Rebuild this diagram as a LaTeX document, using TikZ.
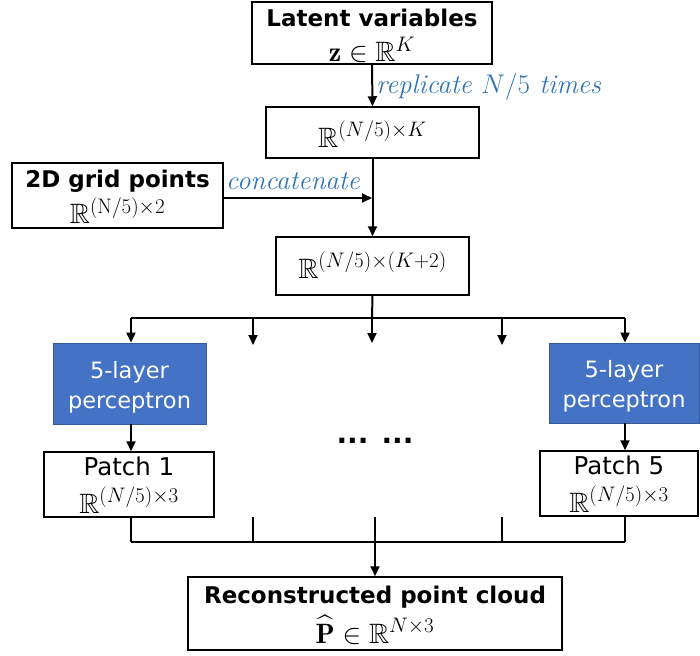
\documentclass[tikz,border=0pt]{standalone}
\usepackage{fix-cm}
\usepackage{amsmath,amssymb,amsfonts}
\usepackage{fontspec}
\setsansfont{DejaVu Sans}
\usetikzlibrary{arrows.meta}
\DeclareMathSizes{28}{28}{21}{16}
\definecolor{boxblue}{RGB}{68,114,196}
\definecolor{lblblue}{RGB}{46,117,182}
\newcommand{\ttlfont}{\sffamily\bfseries\fontsize{23}{26}\selectfont}
\newcommand{\ptfont}{\sffamily\fontsize{24.5}{26}\selectfont}
\newcommand{\mthfont}{\fontsize{28}{30}\selectfont}
\newcommand{\twolines}[2]{\begin{tabular}[t]{@{}c@{}}#1\\#2\end{tabular}}
\begin{document}
\begin{tikzpicture}[x=1pt,y=-1pt,
  box/.style={draw=black,line width=1.5pt,fill=white,inner sep=0pt,minimum width=#1},
  bluebox/.style={draw=boxblue!80!black,line width=0.8pt,fill=boxblue,text=white,inner sep=0pt,minimum width=#1},
  conn/.style={line width=2pt},
  arr/.style={line width=2pt,-{Triangle[length=10pt,width=9pt]}},
  lbl/.style={text=lblblue,font=\fontsize{27}{30}\selectfont\itshape,inner sep=0pt}]
\useasboundingbox (0,0) rectangle (700,655);

\node[box=240pt,minimum height=62pt,font=\fontsize{28}{33}\selectfont,
      text height=10pt,text depth=22pt] (lat) at (372,33)
  {\twolines{\ttlfont Latent variables}{\mthfont $\mathbf{z}\in\mathbb{R}^{K}$}};
\node[box=213pt,minimum height=51pt,text height=29pt,text depth=0pt] (rep) at (372.5,132.5)
  {\mthfont $\mathbb{R}^{(N/5)\times K}$};
\node[box=211pt,minimum height=65pt,font=\fontsize{28}{36}\selectfont,
      text height=10pt,text depth=27pt] (grid) at (117.5,195.5)
  {\twolines{\ttlfont 2D grid points}{\mthfont $\mathbb{R}^{(\mathrm{N}/5)\times 2}$}};
\node[box=193pt,minimum height=58pt,text height=26pt,text depth=2pt] (cat) at (372.5,266)
  {\mthfont $\mathbb{R}^{(N/5)\times(K+2)}$};

\node[bluebox=153pt,minimum height=81pt,font=\sffamily\fontsize{22.5}{30}\selectfont,
      text height=10pt,text depth=21pt] (mlp1) at (129.5,383.5)
  {\twolines{5-layer}{perceptron}};
\node[bluebox=150pt,minimum height=80pt,font=\sffamily\fontsize{22.5}{30}\selectfont,
      text height=10pt,text depth=21pt] (mlp5) at (624,383)
  {\twolines{5-layer}{perceptron}};

\node[box=170pt,minimum height=65pt,font=\fontsize{28}{38}\selectfont,
      text height=10pt,text depth=29pt] (p1) at (129,484.5)
  {\twolines{\ptfont Patch 1}{\mthfont $\mathbb{R}^{(N/5)\times 3}$}};
\node[box=158pt,minimum height=65pt,font=\fontsize{28}{38}\selectfont,
      text height=10pt,text depth=29pt] (p5) at (619,483.5)
  {\twolines{\ptfont Patch 5}{\mthfont $\mathbb{R}^{(N/5)\times 3}$}};

\node[font=\sffamily\bfseries\fontsize{28}{30}\selectfont,inner sep=0pt,anchor=base] (dots) at (375,443) {... ...};

\node[box=374pt,minimum height=73pt,font=\fontsize{28}{40}\selectfont,
      text height=10pt,text depth=31pt] (rec) at (375,613.5)
  {\twolines{\ttlfont Reconstructed point cloud}{\mthfont $\widehat{\mathbf{P}}\in\mathbb{R}^{N\times 3}$}};

% labels
\node[lbl,anchor=base west] (replbl) at (376,94) {replicate $N/5$ times};
\node[lbl,anchor=base west] (catlbl) at (226,189) {concatenate};

% top connectors
\draw[arr] (lat.south) -- (rep.north);
\draw[arr] (rep.south) -- (cat.north);
\coordinate (join) at (372,198);
\draw[arr] (grid.east |- join) -- (join);

% branching
\coordinate (s) at (372,318);
\coordinate (hL) at (131,318);
\coordinate (hR) at (625,318);
\coordinate (m2) at (253,318);
\coordinate (m4) at (502,318);
\coordinate (m2e) at (253,345);
\coordinate (m3e) at (372,343);
\coordinate (m4e) at (502,345);
\draw[conn] (cat.south) -- (s);
\draw[conn] (hL) -- (hR);
\draw[arr] (hL) -- (hL |- mlp1.north);
\draw[arr] (hR) -- (hR |- mlp5.north);
\draw[arr] (m2) -- (m2e);
\draw[arr] (s) -- (m3e);
\draw[arr] (m4) -- (m4e);

\draw[arr] (mlp1.south -| hL) -- (hL |- p1.north);
\draw[arr] (mlp5.south -| hR) -- (hR |- p5.north);

% merging
\coordinate (bL) at (131,542);
\coordinate (bR) at (625,542);
\coordinate (b2) at (253,542);
\coordinate (b3) at (375,542);
\coordinate (b4) at (502,542);
\coordinate (t2) at (253,517);
\coordinate (t3) at (375,517);
\coordinate (t4) at (502,517);
\draw[conn] (p1.south -| bL) -- (bL);
\draw[conn] (p5.south -| bR) -- (bR);
\draw[conn] (t2) -- (b2);
\draw[conn] (t3) -- (b3);
\draw[conn] (t4) -- (b4);
\draw[conn] (bL) -- (bR);
\draw[arr] (b3) -- (rec.north);
\end{tikzpicture}
\end{document}
